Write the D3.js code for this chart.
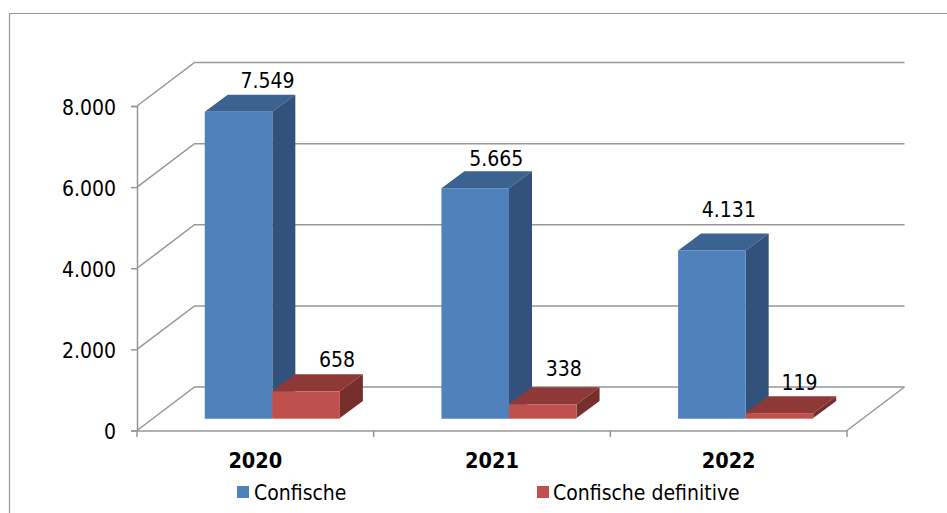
<!DOCTYPE html>
<html>
<head>
<meta charset="utf-8">
<script src="https://cdn.jsdelivr.net/npm/d3@7"></script>
<style>
  html, body { margin: 0; padding: 0; background: #fff; }
  svg { display: block; }
  text { font-family: "DejaVu Sans Condensed", "DejaVu Sans", sans-serif; fill: #000; }
</style>
</head>
<body>
<svg id="chart"></svg>
<script>
// Chart data
const years = ['2020', '2021', '2022'];
const seriesNames = ['Confische', 'Confische definitive'];
const confische = [7549, 5665, 4131];
const definitive = [658, 338, 119];
const yTicks = [0, 2000, 4000, 6000, 8000];

const width = 947;
const height = 513;

// Front plane of the 3D box and depth of the walls and bars
const x0 = 137, x1 = 847, yBase = 430.5, yTop = 106;
const wallDx = 57.5, wallDy = -43.5;
const barDx = 23, barDy = -17, floorLift = 12.5, barShift = 17;

const colors = [
    {front: '#4f81bd', top: '#3c6291', side: '#32527b', edge: '#7ea3d0'},
    {front: '#c0504d', top: '#8e3938', side: '#772f2d', edge: '#d98784'}
];

// Data label nudges, the original labels were placed by hand
const labelNudge = [
    [[29, -7], [21, -5], [17, -16]],
    [[31, -7], [21, -11], [20, -6]]
];

const svg = d3.select('#chart')
    .attr('width', width)
    .attr('height', height);

const xScale = d3.scaleBand().domain(years).range([x0, x1]);
const yScale = d3.scaleLinear().domain([0, 8000]).range([yBase, yTop]);
const numFormat = d3.formatLocale({decimal: ',', thousands: '.', grouping: [3], currency: ['', '']}).format(',d');
const gridColor = '#979797';

// Outer chart border, runs off the right and bottom of the picture
svg.append('path')
    .attr('d', `M9.5,${height}V13.5H${width}`)
    .attr('fill', 'none')
    .attr('stroke', gridColor)
    .attr('stroke-width', 1.2);

// Walls and gridlines
const grid = svg.append('g')
    .attr('fill', 'none')
    .attr('stroke', gridColor)
    .attr('stroke-width', 1.5);

grid.selectAll('path.grid')
    .data(yTicks)
    .enter()
    .append('path')
    .attr('class', 'grid')
    .attr('d', d => `M${x0},${yScale(d)}l${wallDx},${wallDy}H${x1 + wallDx}`);

grid.append('path')
    .attr('d', `M${x1 + wallDx},${yBase + wallDy}L${x1},${yBase}`);

// Axes
const yAxis = d3.axisLeft(yScale)
    .tickValues(yTicks)
    .tickFormat(numFormat)
    .tickSize(6)
    .tickPadding(15);

const xAxis = d3.axisBottom(xScale)
    .tickSize(0)
    .tickPadding(22);

svg.append('g')
    .attr('transform', `translate(${x0},0)`)
    .call(yAxis)
    .call(g => g.selectAll('text').attr('font-size', 21).attr('dy', '0.39em').style('font-family', null))
    .call(g => g.selectAll('line, path').attr('stroke', gridColor).attr('stroke-width', 1.5));

const xAxisG = svg.append('g')
    .attr('transform', `translate(0,${yBase})`)
    .call(xAxis)
    .call(g => g.select('.domain').attr('stroke', gridColor).attr('stroke-width', 1.5))
    .call(g => g.selectAll('text').attr('font-size', 21.5).attr('font-weight', 'bold'));

// Ticks sit on the category boundaries, not the centres
xAxisG.selectAll('line.boundary')
    .data(d3.range(years.length + 1))
    .enter()
    .append('line')
    .attr('class', 'boundary')
    .attr('x1', i => x0 + i * xScale.step())
    .attr('x2', i => x0 + i * xScale.step())
    .attr('y1', 0)
    .attr('y2', 6.5)
    .attr('stroke', gridColor)
    .attr('stroke-width', 1.5);

// Bars, side by side in the middle of each band
const barWidth = xScale.step() * 0.2855;
const floorY = yBase - floorLift;
const heightOf = v => yBase - yScale(v);

function drawBars(values, s) {
    const col = colors[s];
    const g = svg.append('g').selectAll('g')
        .data(values)
        .enter()
        .append('g')
        .attr('transform', (d, i) => {
            const bx = xScale(years[i]) + xScale.step() / 2 - barWidth + s * barWidth + barShift;
            return `translate(${bx},${floorY})`;
        });

    g.append('path')
        .attr('fill', col.top)
        .attr('d', d => `M0,${-heightOf(d)}l${barDx},${barDy}h${barWidth}l${-barDx},${-barDy}z`);
    g.append('path')
        .attr('fill', col.side)
        .attr('d', d => `M${barWidth},0V${-heightOf(d)}l${barDx},${barDy}V${barDy}z`);
    g.append('rect')
        .attr('x', 0)
        .attr('y', d => -heightOf(d))
        .attr('width', barWidth)
        .attr('height', d => heightOf(d))
        .attr('fill', col.front);
    g.append('line')
        .attr('x1', 0)
        .attr('x2', barWidth)
        .attr('y1', 0.5)
        .attr('y2', 0.5)
        .attr('stroke', col.edge)
        .attr('stroke-width', 1);

    // Data labels
    g.append('text')
        .attr('text-anchor', 'middle')
        .attr('font-size', 21)
        .attr('x', (d, i) => barWidth / 2 + labelNudge[s][i][0])
        .attr('y', (d, i) => -heightOf(d) + barDy + labelNudge[s][i][1])
        .text(numFormat);
}

drawBars(confische, 0);
drawBars(definitive, 1);

// Legend
const legendX = [237, 537];
const legend = svg.append('g').selectAll('g')
    .data(seriesNames)
    .enter()
    .append('g')
    .attr('transform', (d, i) => `translate(${legendX[i]},486)`);

legend.append('rect')
    .attr('width', 12)
    .attr('height', 12)
    .attr('fill', (d, i) => colors[i].front);

legend.append('text')
    .attr('x', (d, i) => i === 0 ? 17 : 16)
    .attr('y', 14)
    .attr('font-size', 21)
    .text(d => d);
</script>
</body>
</html>
